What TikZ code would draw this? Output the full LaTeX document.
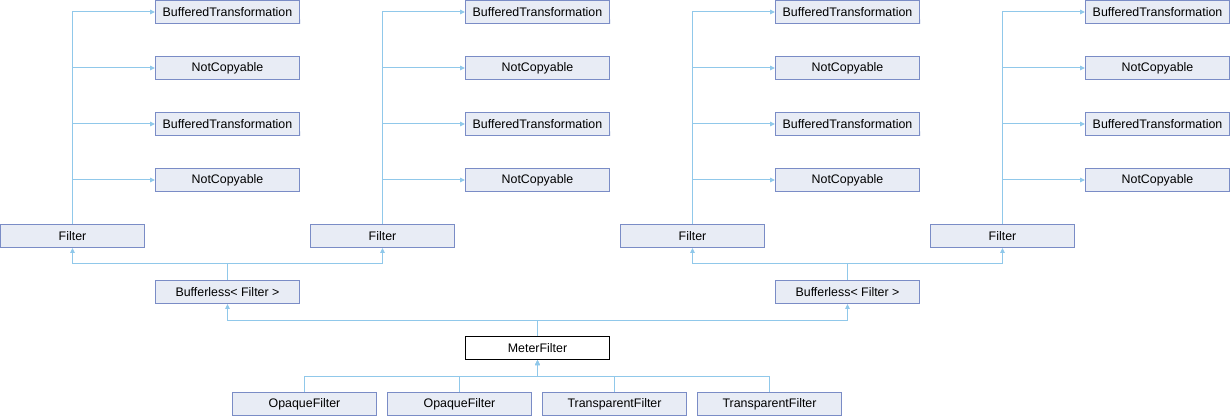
\documentclass[tikz,border=0pt]{standalone}
\usepackage{fontspec}
\setmainfont{Liberation Sans}
\usetikzlibrary{arrows.meta}
\definecolor{boxfill}{HTML}{E8ECF5}
\definecolor{boxline}{HTML}{7A8CC6}
\definecolor{edgecol}{HTML}{90C8EA}
\begin{document}
\begin{tikzpicture}[x=0.75pt,y=-0.75pt,
  cls/.style={draw=boxline,fill=boxfill,line width=0.75pt,minimum width=108pt,minimum height=17.25pt,inner sep=0pt,font=\fontsize{9.3}{11}\selectfont},
  cur/.style={cls,draw=black,fill=white},
  edge/.style={draw=edgecol,line width=0.75pt,-{Triangle[length=3.75pt,width=3.5pt]}},
  trunc/.style={append after command={\pgfextra{\fill[boxline] (\tikzlastnode.south east) -- ++(-4.5,0) -- ++(4.5,-4.5) -- cycle;}}}
]
\useasboundingbox (0,0) rectangle (1230,416);
% top groups
\foreach \g/\off in {a/0,b/310,c/620,d/930}{
  \node[cls] (f\g) at (72.5+\off,236) {Filter};
  \node[cls,trunc] (bt1\g) at (227.5+\off,12) {BufferedTransformation};
  \node[cls] (nc1\g) at (227.5+\off,68) {NotCopyable};
  \node[cls,trunc] (bt2\g) at (227.5+\off,124) {BufferedTransformation};
  \node[cls] (nc2\g) at (227.5+\off,180) {NotCopyable};
  \draw[edge] (f\g.north) |- (bt1\g.west);
  \draw[edge] (f\g.north) |- (nc1\g.west);
  \draw[edge] (f\g.north) |- (bt2\g.west);
  \draw[edge] (f\g.north) |- (nc2\g.west);
}
\node[cls] (bl) at (227.5,292) {Bufferless< Filter >};
\node[cls] (br) at (847.5,292) {Bufferless< Filter >};
\draw[edge] (bl.north) -- ++(0,-16) -| (fa.south);
\draw[edge] (bl.north) -- ++(0,-16) -| (fb.south);
\draw[edge] (br.north) -- ++(0,-16) -| (fc.south);
\draw[edge] (br.north) -- ++(0,-16) -| (fd.south);
\node[cur] (mf) at (537.5,348) {MeterFilter};
\draw[edge] (mf.north) -- ++(0,-16) -| (bl.south);
\draw[edge] (mf.north) -- ++(0,-16) -| (br.south);
\node[cls] (o1) at (304.5,404) {OpaqueFilter};
\node[cls] (o2) at (459.5,404) {OpaqueFilter};
\node[cls] (t1) at (614.5,404) {TransparentFilter};
\node[cls] (t2) at (769.5,404) {TransparentFilter};
\foreach \n in {o1,o2,t1,t2}{
  \draw[edge] (\n.north) -- ++(0,-16) -| (mf.south);
}
\end{tikzpicture}
\end{document}
